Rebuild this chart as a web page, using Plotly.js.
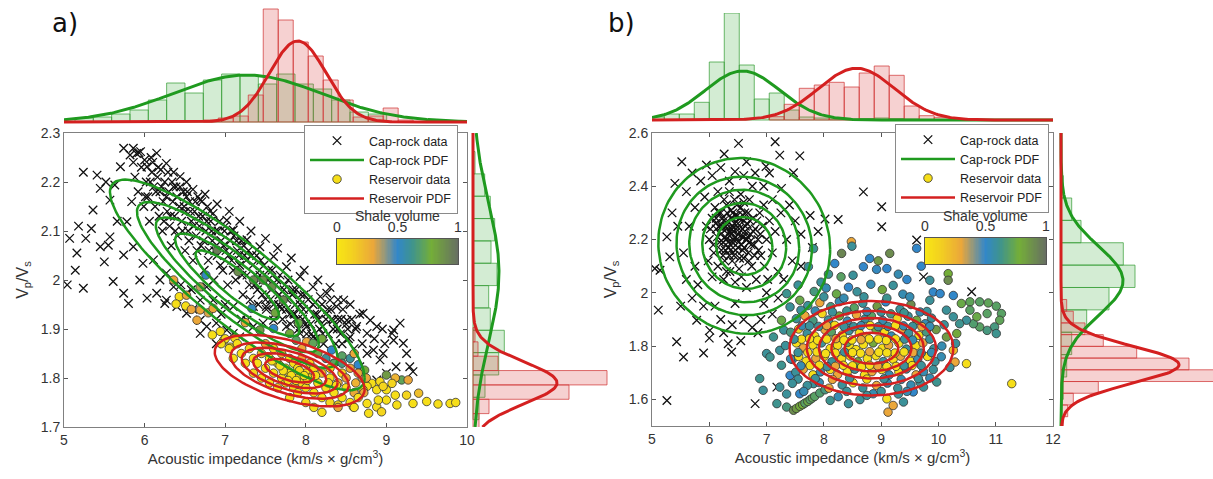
<!DOCTYPE html>
<html><head><meta charset="utf-8">
<script src="https://cdn.plot.ly/plotly-3.0.1.min.js"></script>
<style>html,body{margin:0;padding:0;background:#fff}#chart{width:1213px;height:479px}</style>
</head><body><div id="chart"></div>
<script>
// ---------------- DATA ----------------
// Panel a: cap-rock samples [AI, Vp/Vs]
const capRockA = [
[5.04,1.99],[5.07,2.085],[5.18,2.11],[5.16,2.055],[5.14,2.02],[5.24,1.983],[5.24,2.22],[5.27,2.085],[5.36,2.143],[5.34,2.105],[5.45,2.068],[5.5,2.037],[5.55,2.071],[5.61,1.997],[5.74,1.973],[5.8,1.952],[6.03,1.963],[6.25,1.952],[5.41,2.214],[5.45,2.187],[5.63,2.194],[5.57,2.163],[5.74,2.269],[5.86,2.269],[5.9,2.258],[5.7,2.231],[5.84,2.16],[5.78,2.119],[5.86,2.068],[5.74,2.051],[5.98,2.034],[5.57,2.088],[5.52,2.2],[5.66,2.12],[5.94,2.0],[6.11,2.041],
[5.82,2.255],[5.95,2.262],[6.0,2.245],[6.08,2.25],[6.15,2.259],[6.03,2.231],[6.27,2.238],[6.2,2.225],[6.36,2.22],[6.44,2.211],[6.36,2.19],[6.52,2.2],[6.52,2.17],[6.6,2.185],[6.69,2.163],[6.75,2.175],[6.85,2.136],[6.9,2.155],[7.02,2.122],[7.05,2.14],[7.1,2.102],[7.18,2.12],[7.27,2.082],[7.32,2.1],[7.43,2.068],[7.5,2.085],[7.6,2.048],[7.65,2.065],[7.76,2.027],[7.82,2.045],[7.93,2.007],[7.98,2.02],[8.09,1.986],[8.15,2.0],[8.26,1.973],[8.3,1.985],[8.4,1.96],[8.47,1.959],[8.55,1.95],
[5.88,2.21],[5.92,2.18],[5.96,2.23],[5.99,2.15],[6.02,2.2],[6.04,2.17],[6.06,2.12],[6.09,2.22],[6.11,2.19],[6.13,2.15],[6.16,2.21],[6.18,2.13],[6.19,2.18],[6.22,2.1],[6.23,2.16],[6.25,2.2],[6.28,2.14],[6.3,2.18],[6.31,2.11],[6.33,2.07],[6.35,2.16],[6.37,2.13],[6.39,2.19],[6.41,2.09],[6.43,2.15],[6.46,2.12],[6.48,2.18],[6.5,2.06],[6.51,2.14],[6.54,2.1],[6.56,2.16],[6.58,2.12],[6.6,2.04],[6.62,2.14],[6.64,2.09],[6.66,2.17],[6.68,2.11],[6.7,2.07],[6.72,2.13],[6.74,2.02],[6.76,2.1],[6.78,2.15],[6.8,2.06],[6.82,2.12],[6.84,2.08],[6.86,2.0],[6.88,2.1],[6.9,2.05],[6.93,2.12],[6.95,2.08],[6.97,2.02],[6.99,2.1],[7.01,2.06],[7.03,1.99],[7.06,2.08],[7.08,2.04],[7.11,2.09],[7.13,2.0],[7.15,2.06],[7.18,2.03],[7.2,2.08],[7.22,1.97],[7.24,2.05],[7.27,2.01],[7.29,2.06],[7.31,1.96],[7.34,2.03],[7.36,1.99],[7.39,2.05],[7.41,1.95],[7.43,2.01],[7.46,1.97],[7.48,2.03],[7.51,1.94],[7.53,2.0],[7.56,1.96],[7.58,2.02],[7.61,1.93],[7.63,1.99],[7.66,1.95],[7.68,2.01],[7.71,1.92],[7.73,1.98],[7.76,1.94],[7.78,2.0],[7.81,1.91],[7.83,1.97],[7.86,1.93],[7.88,1.98],[7.91,1.9],[7.93,1.95],[7.96,1.92],[7.98,1.97],[8.01,1.89],[8.04,1.94],[8.06,1.91],[8.09,1.95],[8.12,1.88],[8.14,1.93],[8.17,1.9],[8.2,1.95],[8.22,1.87],[8.25,1.92],[8.28,1.89],[8.31,1.94],[8.34,1.9],[8.37,1.87],[8.4,1.92],[8.43,1.89],[8.46,1.94],[8.5,1.91],[8.53,1.88],[8.57,1.92],[8.62,1.9],[8.67,1.93],
[5.86,2.24],[5.93,2.26],[6.01,2.17],[6.07,2.2],[6.1,2.24],[6.14,2.18],[6.17,2.23],[6.21,2.19],[6.24,2.12],[6.27,2.17],[6.29,2.22],[6.32,2.13],[6.34,2.2],[6.38,2.1],[6.4,2.17],[6.44,2.19],[6.47,2.1],[6.49,2.15],[6.53,2.18],[6.55,2.08],[6.57,2.14],[6.61,2.11],[6.63,2.16],[6.65,2.06],[6.67,2.13],[6.71,2.16],[6.73,2.08],[6.77,2.12],[6.79,2.04],[6.81,2.14],[6.83,2.1],[6.87,2.06],[6.91,2.1],[6.94,2.03],[6.98,2.07],[7.0,2.11],[7.04,2.05],[7.07,2.1],[7.1,2.02],[7.14,2.08],[7.17,2.05],[7.21,2.01],[7.23,2.07],[7.26,2.04],[7.3,1.99],[7.33,2.05],[7.37,2.01],[7.4,1.98],[7.44,2.04],[7.47,2.0],[7.5,1.96],[7.54,2.02],[7.57,1.98],[7.6,1.95],[7.64,2.0],[7.67,1.97],[7.7,1.94],[7.74,1.99],[7.77,1.96],[7.8,1.93],[7.84,1.98],[7.87,1.95],[7.9,1.92],[7.94,1.97],[7.97,1.94],[8.0,1.91],[8.03,1.96],[8.07,1.89],[8.11,1.93],[8.16,1.92],[8.21,1.89],[8.27,1.94],[8.32,1.92],[8.39,1.9],[8.44,1.92],[8.52,1.9],
[6.15,1.973],[6.27,1.959],[6.4,1.946],[6.52,1.932],[6.69,1.918],[6.77,1.905],[6.89,1.912],[7.02,1.898],[7.1,1.891],[7.18,1.884],[7.27,1.918],[7.35,1.905],[7.47,1.912],[6.89,1.87],[6.69,1.891],[6.27,2.014],[6.36,1.986],[6.19,2.0],[6.52,1.973],[6.69,1.959],[6.77,1.986],[6.85,1.959],[7.1,1.946],[7.35,1.946],[7.51,1.946],[7.68,1.946],[7.85,1.932],[8.01,1.905],[8.09,1.884],[8.21,1.905],[7.93,1.891],[7.76,1.905],[7.6,1.918],[8.26,1.932],[6.6,1.94],[6.95,1.93],[7.2,1.92],[7.0,1.95],[6.45,1.99],[6.58,1.98],
[8.71,1.932],[8.8,1.918],[8.76,1.891],[8.88,1.905],[8.84,1.857],[8.92,1.837],[9.07,1.891],[9.09,1.877],[9.21,1.871],[9.25,1.85],[9.29,1.823],[9.33,1.813],[9.12,1.823],[9.0,1.81],[8.63,1.905],[8.55,1.884],[8.51,1.918],[8.34,1.918],[8.38,1.946],[8.3,1.959],[8.18,1.966],[8.88,1.796],[8.96,1.85],[8.76,1.85],[8.67,1.823],[9.17,1.912],[9.09,1.898],[8.85,1.88],[8.95,1.9],[8.6,1.86],[8.7,1.87],[8.45,1.87],[8.98,1.87]
];
// Panel a: reservoir samples [AI, Vp/Vs, shale volume]
const reservoirA = [
[7.9,1.8,0.05],
[6.36,2.0,0.3],[6.43,1.966,0.05],[6.39,1.951,0.05],[6.52,1.969,0.3],[6.51,1.947,0.05],[6.58,1.94,0.3],[6.69,1.939,0.3],[6.79,1.933,0.32],[6.85,1.942,0.3],[6.65,1.918,0.3],[6.69,1.986,0.35],[6.84,1.888,0.05],[6.94,1.895,0.05],[6.98,1.877,0.05],[7.06,1.863,0.05],[7.12,1.881,0.1],[7.25,1.913,0.3],[6.76,2.01,0.52],[6.9,2.061,0.95],[7.16,2.017,0.9],[7.33,1.942,0.52],[7.35,2.0,0.92],[7.43,1.898,0.85],[7.47,2.0,0.9],[7.58,1.986,0.9],[7.6,1.901,0.5],[7.62,1.933,0.82],[7.72,1.959,0.92],[7.8,1.891,0.8],[7.91,1.912,0.75],[7.88,1.877,0.7],[8.01,1.874,0.3],[8.09,1.871,0.72],[8.32,1.857,0.5],[8.65,1.827,0.5],[8.73,1.816,0.8],[9.0,1.806,0.85],[9.19,1.796,0.72],[9.27,1.796,0.3],[9.11,1.8,0.25],[8.2,1.88,0.8],[8.45,1.845,0.7],[8.35,1.83,0.85],[8.55,1.84,0.6],[8.6,1.85,0.3],
[8.82,1.789,0.05],[8.92,1.793,0.08],[9.0,1.776,0.05],[8.88,1.776,0.05],[8.76,1.748,0.05],[8.88,1.741,0.05],[8.78,1.728,0.05],[8.94,1.731,0.1],[9.0,1.755,0.05],[9.11,1.765,0.05],[9.13,1.745,0.05],[9.25,1.765,0.1],[9.33,1.748,0.05],[9.4,1.769,0.2],[9.5,1.752,0.05],[9.64,1.747,0.05],[9.79,1.748,0.05],[9.86,1.75,0.05],[8.59,1.741,0.05],[8.4,1.745,0.05],[8.96,1.783,0.1],[8.76,1.783,0.05],[8.9,1.755,0.05],[9.07,1.789,0.1],[8.71,1.776,0.1],
[7.2,1.85,0.05],[7.3,1.86,0.1],[7.35,1.84,0.05],[7.4,1.83,0.05],[7.45,1.85,0.2],[7.5,1.82,0.05],[7.5,1.87,0.3],[7.55,1.84,0.05],[7.6,1.81,0.05],[7.6,1.86,0.1],[7.65,1.83,0.05],[7.7,1.8,0.05],[7.7,1.85,0.25],[7.75,1.82,0.05],[7.75,1.79,0.05],[7.8,1.84,0.05],[7.8,1.81,0.05],[7.85,1.78,0.1],[7.85,1.83,0.05],[7.9,1.82,0.05],[7.95,1.79,0.05],[7.95,1.84,0.3],[8.0,1.81,0.05],[8.0,1.78,0.05],[8.05,1.83,0.1],[8.05,1.8,0.05],[8.1,1.77,0.05],[8.1,1.82,0.05],[8.15,1.79,0.05],[8.2,1.81,0.2],[8.2,1.76,0.05],[8.25,1.78,0.05],[8.3,1.8,0.05],[8.3,1.75,0.1],[8.35,1.77,0.05],[8.4,1.79,0.3],[8.45,1.76,0.05],[8.5,1.78,0.05],[8.55,1.75,0.05],[8.6,1.77,0.3],[8.45,1.81,0.1],[8.35,1.83,0.7],[8.25,1.84,0.6],[8.15,1.85,0.75],[7.95,1.86,0.3],[7.65,1.78,0.05],[7.55,1.79,0.05],[7.45,1.8,0.05],[7.35,1.81,0.1],[7.25,1.83,0.05],[7.1,1.84,0.05],[7.05,1.86,0.05],[7.8,1.76,0.05],[7.9,1.77,0.05],[8.0,1.75,0.1],[8.1,1.74,0.05],[8.2,1.73,0.05],[8.4,1.74,0.3],[8.6,1.74,0.05],[7.72,1.815,0.05],[7.82,1.805,0.05],[7.92,1.815,0.1],[8.02,1.795,0.05],[7.88,1.795,0.05],[7.78,1.795,0.05],[7.98,1.805,0.05],[8.12,1.805,0.05],[7.68,1.825,0.05],[7.58,1.835,0.05],[8.28,1.79,0.05],[8.38,1.785,0.05],[8.5,1.8,0.3],[8.62,1.79,0.25],[8.7,1.8,0.35],[8.72,1.77,0.3],[8.65,1.76,0.05],[7.15,1.87,0.05],[7.0,1.88,0.05],[6.95,1.87,0.05],[8.55,1.82,0.3],[8.65,1.81,0.3],[8.75,1.8,0.3],[8.3,1.82,0.05],[8.45,1.83,0.65]
];
// Panel b: cap-rock samples
const capRockB = [
[6.51,2.561],[7.15,2.567],[7.58,2.514],[7.23,2.517],[6.26,2.521],[5.52,2.492],[6.65,2.492],[6.99,2.474],[7.47,2.451],[5.4,2.411],[6.45,2.455],[8.69,2.379],[9.01,2.323],[9.01,2.248],[8.25,2.275],[8.02,2.277],[7.76,2.29],[7.26,2.392],[5.26,2.21],[5.31,2.135],[5.14,2.085],[5.05,2.091],[5.11,1.935],[5.43,1.816],[5.55,1.759],[5.9,1.774],[6.39,1.778],[6.33,1.809],[6.01,1.859],[5.78,1.897],[5.26,1.596],[6.8,1.584],[7.18,1.646],[10.58,2.004],[9.62,2.198],[9.74,2.06],
[5.35,2.3],[5.45,2.25],[5.6,2.38],[5.7,2.45],[5.55,2.15],[5.6,2.05],[5.7,1.98],[5.85,2.42],[5.95,2.48],[6.05,2.44],[6.2,2.47],[6.35,2.42],[6.6,2.44],[6.8,2.45],[6.95,2.4],[7.1,2.35],[7.25,2.3],[7.4,2.33],[7.5,2.27],[7.6,2.22],[7.35,2.2],[7.45,2.12],[7.3,2.05],[7.2,1.98],[7.1,1.92],[6.9,1.9],[6.75,1.87],[6.6,1.9],[6.4,1.88],[6.2,1.9],[6.1,1.95],[5.9,1.95],[5.8,2.03],[5.75,2.1],[5.65,2.25],[5.75,2.32],[6.0,1.83],[6.25,1.85],[6.55,1.82],[6.85,1.85],[7.0,2.0],[7.6,2.1],[7.8,2.17],[7.9,2.23],[5.5,1.95],[6.45,1.96],[6.95,1.96],[7.05,2.45],[7.15,2.23],[5.92,2.36],
[6.0,2.2],[6.05,2.28],[6.08,2.15],[6.1,2.32],[6.12,2.24],[6.15,2.1],[6.18,2.19],[6.2,2.3],[6.22,2.25],[6.24,2.14],[6.26,2.35],[6.28,2.21],[6.3,2.08],[6.32,2.27],[6.34,2.17],[6.36,2.23],[6.38,2.31],[6.4,2.12],[6.42,2.2],[6.44,2.26],[6.46,2.16],[6.48,2.33],[6.5,2.22],[6.52,2.09],[6.54,2.28],[6.56,2.18],[6.58,2.24],[6.6,2.13],[6.62,2.3],[6.64,2.2],[6.66,2.26],[6.68,2.15],[6.7,2.35],[6.72,2.22],[6.74,2.1],[6.76,2.28],[6.78,2.18],[6.8,2.24],[6.82,2.05],[6.85,2.2],[6.88,2.3],[6.9,2.14],[6.93,2.25],[6.96,2.1],[7.0,2.2],[6.25,2.05],[6.45,2.04],[6.65,2.02],[6.35,2.38],[6.55,2.37],[6.75,2.4],[6.15,2.38],[5.95,2.25],[5.98,2.12],[6.05,2.06],[6.3,2.2],[6.4,2.25],[6.5,2.17],[6.6,2.21],[6.45,2.29],[6.35,2.14],[6.55,2.32],[6.25,2.27],[6.2,2.22],[6.4,2.19],[6.5,2.26],[6.6,2.27],[6.7,2.19],[6.3,2.24],[6.38,2.28],[6.48,2.2],[6.58,2.16],[6.42,2.23],[6.52,2.24],[6.33,2.19],[6.28,2.16],[6.62,2.23],[6.68,2.3],[6.12,2.28],[6.18,2.25],[7.05,2.27],[7.1,2.15],[7.2,2.08],[6.95,2.33],[7.02,2.05],
[6.02,2.24],[6.07,2.18],[6.11,2.26],[6.14,2.21],[6.17,2.3],[6.21,2.16],[6.23,2.28],[6.27,2.12],[6.29,2.25],[6.31,2.3],[6.33,2.22],[6.37,2.16],[6.39,2.24],[6.41,2.3],[6.43,2.14],[6.47,2.24],[6.49,2.29],[6.51,2.19],[6.53,2.13],[6.57,2.21],[6.59,2.29],[6.61,2.17],[6.63,2.25],[6.67,2.21],[6.69,2.12],[6.71,2.27],[6.73,2.18],[6.77,2.23],[6.79,2.14],[6.83,2.27],[6.86,2.16],[6.89,2.22],[6.3,2.33],[6.44,2.35],[6.6,2.34],[6.36,2.08],[6.56,2.06],[6.24,2.19],[6.46,2.21],[6.66,2.2],[6.52,2.28],[6.38,2.22]
];
// Panel b: reservoir samples [AI, Vp/Vs, shale volume]
const reservoirB = [
[8.45,1.8,0.05],
[8.48,2.192,0.3],[8.49,2.175,0.6],[8.31,2.148,0.92],[9.15,2.148,0.9],[9.62,2.167,0.5],[8.8,2.129,0.5],[8.69,2.098,0.5],[8.92,2.088,0.52],[9.1,2.091,0.5],[7.82,2.166,0.62],[7.73,2.098,0.6],[8.19,2.11,0.5],[8.08,2.07,0.62],[8.51,2.066,0.6],[10.17,2.072,0.78],[10.17,2.047,0.9],[9.85,2.047,0.6],[9.3,2.07,0.55],[9.45,2.05,0.5],[8.95,2.12,0.85],[8.3,2.06,0.7],[7.95,2.04,0.6],[9.7,2.1,0.5],
[7.0,1.772,0.6],[7.06,1.759,0.62],[6.88,1.678,0.62],[6.94,1.634,0.6],[7.18,1.584,0.62],[7.35,1.571,0.65],[7.47,1.559,0.9],[7.52,1.566,0.85],[7.58,1.574,0.8],[7.63,1.58,0.78],[7.67,1.586,0.7],[7.72,1.592,0.75],[7.76,1.599,0.7],[7.8,1.605,0.72],[7.84,1.611,0.7],[7.93,1.624,0.68],[8.02,1.636,0.65],[7.23,1.646,0.6],[7.41,1.69,0.5],[7.26,1.728,0.62],[7.23,1.784,0.6],[7.12,1.834,0.62],[7.26,1.897,0.75],[7.41,1.947,0.6],[7.35,1.997,0.62],[7.58,1.972,0.75],[7.55,2.029,0.6],[7.58,1.621,0.5],[7.82,1.659,0.6],[8.11,1.596,0.62],[8.43,1.584,0.6],[8.63,1.599,0.6],[8.86,1.621,0.55],[9.1,1.602,0.05],[9.12,1.552,0.3],[9.21,1.577,0.3],[9.39,1.59,0.6],[9.56,1.628,0.5],[9.97,1.665,0.62],[9.74,1.646,0.6],[8.25,1.61,0.55],[8.75,1.615,0.6],[9.3,1.62,0.6],[7.35,1.62,0.6],[7.45,1.75,0.55],[7.3,1.86,0.6],
[10.14,1.834,0.85],[10.26,1.784,0.2],[10.29,1.74,0.3],[10.49,1.734,0.05],[11.28,1.659,0.05],[10.26,1.91,0.6],[10.14,1.935,0.6],[9.85,1.972,0.6],[9.91,2.003,0.5],[10.03,1.997,0.5],[10.26,1.99,0.5],[10.4,1.96,0.75],[10.55,1.966,0.72],[10.72,1.966,0.7],[10.87,1.962,0.72],[11.01,1.95,0.7],[11.1,1.922,0.7],[11.07,1.897,0.72],[10.98,1.872,0.65],[11.01,1.847,0.62],[10.85,1.859,0.65],[10.72,1.872,0.7],[10.61,1.884,0.68],[10.49,1.897,0.6],[10.37,1.884,0.62],[10.32,1.847,0.8],[10.85,1.922,0.7],[10.67,1.91,0.75],[10.55,1.935,0.7],[10.1,1.88,0.6],[10.2,1.72,0.6],[10.05,1.76,0.55],[10.3,1.81,0.6],
[7.72,1.952,0.6],[7.93,1.963,0.3],[8.12,1.948,0.65],[8.27,1.967,0.55],[8.53,1.944,0.7],[8.68,1.961,0.6],[8.93,1.949,0.85],[9.08,1.966,0.5],[9.33,1.938,0.6],[9.52,1.956,0.9],[9.68,1.928,0.55],
[7.83,2.005,0.65],[8.04,2.018,0.55],[8.22,1.996,0.75],[8.43,2.021,0.5],[8.58,2.004,0.6],[8.82,2.032,0.55],[9.02,2.012,0.8],[9.21,2.028,0.6],[9.38,1.995,0.55],
[7.52,1.903,0.6],[7.67,1.914,0.3],[7.81,1.896,0.65],[7.97,1.922,0.1],[8.08,1.898,0.6],[8.27,1.913,0.8],[8.41,1.894,0.55],[8.57,1.918,0.3],[8.72,1.902,0.6],[8.83,1.913,0.7],[9.03,1.896,0.55],[9.17,1.921,0.65],[9.28,1.903,0.1],[9.47,1.912,0.6],[9.62,1.897,0.8],[9.77,1.884,0.55],[9.88,1.905,0.6],
[7.42,1.852,0.65],[7.56,1.864,0.1],[7.71,1.847,0.6],[7.84,1.838,0.05],[8.02,1.861,0.3],[8.13,1.853,0.7],[8.32,1.842,0.05],[8.44,1.858,0.6],[8.62,1.849,0.05],[8.74,1.836,0.3],[8.91,1.862,0.75],[9.06,1.851,0.05],[9.18,1.838,0.55],[9.37,1.864,0.3],[9.48,1.848,0.6],[9.66,1.84,0.05],[9.79,1.853,0.65],[9.96,1.862,0.85],
[7.33,1.802,0.6],[7.52,1.812,0.05],[7.64,1.793,0.3],[7.81,1.804,0.05],[7.96,1.812,0.6],[8.11,1.791,0.05],[8.24,1.803,0.05],[8.41,1.814,0.7],[8.56,1.787,0.05],[8.69,1.806,0.05],[8.86,1.812,0.8],[9.02,1.792,0.05],[9.13,1.803,0.3],[9.31,1.811,0.05],[9.44,1.789,0.6],[9.61,1.802,0.05],[9.73,1.812,0.3],[9.92,1.79,0.6],[10.06,1.8,0.55],
[7.42,1.752,0.55],[7.56,1.761,0.05],[7.69,1.743,0.05],[7.86,1.754,0.3],[8.01,1.762,0.05],[8.14,1.741,0.6],[8.31,1.752,0.05],[8.46,1.763,0.05],[8.59,1.741,0.8],[8.76,1.753,0.05],[8.91,1.764,0.05],[9.04,1.742,0.6],[9.21,1.751,0.05],[9.34,1.762,0.3],[9.51,1.743,0.05],[9.64,1.752,0.55],[9.81,1.761,0.05],[9.94,1.742,0.6],
[7.51,1.702,0.6],[7.64,1.713,0.3],[7.81,1.692,0.05],[7.94,1.703,0.55],[8.11,1.712,0.05],[8.24,1.693,0.3],[8.41,1.704,0.05],[8.54,1.713,0.6],[8.71,1.691,0.05],[8.84,1.704,0.3],[9.01,1.712,0.05],[9.14,1.692,0.55],[9.31,1.703,0.05],[9.44,1.714,0.6],[9.61,1.692,0.3],[9.74,1.704,0.55],[9.91,1.712,0.6],
[7.71,1.652,0.6],[7.92,1.663,0.55],[8.09,1.642,0.3],[8.32,1.654,0.6],[8.51,1.662,0.05],[8.68,1.643,0.6],[8.92,1.652,0.3],[9.11,1.661,0.55],[9.29,1.642,0.6],[9.52,1.654,0.55],[9.68,1.663,0.6],
[7.61,1.826,0.05],[7.89,1.822,0.05],[8.21,1.828,0.3],[8.49,1.823,0.05],[8.79,1.827,0.05],[9.09,1.821,0.05],[9.41,1.826,0.6],[7.72,1.776,0.05],[8.03,1.772,0.05],[8.36,1.778,0.6],[8.64,1.773,0.05],[8.96,1.777,0.05],[9.24,1.774,0.05],[9.56,1.776,0.3],[7.76,1.727,0.05],[8.06,1.723,0.6],[8.34,1.728,0.05],[8.66,1.722,0.05],[8.94,1.726,0.3],[9.26,1.724,0.05],[9.54,1.727,0.05],[7.62,1.876,0.55],[7.91,1.874,0.6],[8.19,1.878,0.05],[8.52,1.873,0.6],[8.81,1.877,0.05],[9.12,1.874,0.6],[9.39,1.876,0.55],[9.71,1.873,0.3],
[7.48,1.826,0.6],[7.75,1.828,0.05],[8.05,1.826,0.05],[8.35,1.822,0.05],[8.65,1.824,0.3],[8.95,1.826,0.05],[9.25,1.827,0.05],[9.55,1.823,0.55],[9.85,1.826,0.6],[7.55,1.776,0.6],[7.88,1.778,0.05],[8.2,1.774,0.05],[8.5,1.776,0.05],[8.8,1.779,0.3],[9.1,1.775,0.05],[9.4,1.778,0.05],[9.7,1.774,0.6],[9.88,1.776,0.55],[7.6,1.726,0.55],[7.92,1.728,0.05],[8.2,1.724,0.3],[8.5,1.726,0.05],[8.8,1.728,0.05],[9.1,1.723,0.05],[9.4,1.726,0.6],[9.7,1.727,0.6],[7.55,1.676,0.6],[7.85,1.678,0.6],[8.15,1.675,0.3],[8.45,1.679,0.6],[8.75,1.676,0.05],[9.05,1.677,0.6],[9.35,1.675,0.55],[9.65,1.678,0.6],[9.85,1.68,0.55],[7.75,1.876,0.6],[8.05,1.877,0.3],[8.35,1.874,0.6],[8.65,1.877,0.55],[8.95,1.873,0.6],[9.25,1.877,0.05],[9.55,1.874,0.6],[9.85,1.874,0.55],[7.6,1.935,0.6],[7.85,1.932,0.55],[8.15,1.928,0.6],[8.4,1.932,0.62],[8.75,1.93,0.55],[9.0,1.928,0.6],[9.4,1.925,0.62],[9.8,1.93,0.6],[8.0,1.985,0.6],[8.35,1.98,0.55],[8.7,1.985,0.6],[9.1,1.98,0.62],[9.5,1.985,0.55],[7.45,1.66,0.6],[7.65,1.63,0.55],[8.4,1.63,0.6],[9.0,1.63,0.6],[9.45,1.63,0.55]
];

// Bivariate Gaussian PDF parameters: [meanAI, meanVpVs], [sdAI, sdVpVs], correlation
const capPdfA = {mean:[7.15,1.99], sd:[0.632,0.086], rho:-0.88};
const resPdfA = {mean:[7.8,1.815], sd:[0.372,0.0292], rho:-0.52};
const capPdfB = {mean:[6.61,2.176], sd:[0.6,0.132], rho:-0.04};
const resPdfB = {mean:[8.83,1.792], sd:[0.572,0.071], rho:0.0};
const contourRadii = [2.5, 1.97, 1.6, 1.22, 0.82];   // Mahalanobis radii of PDF contours

// Marginal histograms: start edge, bin width, counts
const topCapA = {start:5.136, width:0.2275, counts:[4,5,8,12,22,39,29,42,48,47,38,48,38,33,22,10,8]};
const topResA = {start:6.728, width:0.186, counts:[2,4,6,27,113,102,80,66,42,22,5,6,14,2]};
const rightCapA = {start:1.715, width:0.0456, counts:[6,12,25.7,31.3,17.3,15.7,24,18,21.7,17.3,11.7,2]};
const rightResA = {start:1.698, width:0.0293, counts:[6,16,96,134,25,5,2]};
const topCapB = {start:4.953, width:0.2617, counts:[3,6,6,17.7,58,107,55,21,27,10,3,2,1,1,1.5,2,1.5,1]};
const topResB = {start:7.047, width:0.2617, counts:[3.3,15.7,31.7,35,37.7,33,47,54,44.7,14,4.3,2.7]};
const rightCapB = {start:1.60, width:0.084, counts:[2.3,5.7,10.7,25.7,48,74,62.3,20,10.7,2.3]};
const rightResB = {start:1.491, width:0.044, counts:[2.3,6.7,12.3,37.3,155,128,75.7,42.3,24,12.3,5.7]};

// Marginal PDF curves: [mean, sd, peak height in count units]
const topCapPdfA = [7.27,0.92,47];
const topResPdfA = [7.9,0.35,81];
const rightCapPdfA = [2.015,0.14,26];
const rightResPdfA = [1.79,0.043,84];
const topCapPdfB = [6.58,0.65,49];
const topResPdfB = [8.57,0.667,51.7];
const rightCapPdfB = [2.045,0.13,62];
const rightResPdfB = [1.73,0.07,118];

const xTicksA = [5,6,7,8,9,10];
const yTicksA = [1.7,1.8,1.9,2.0,2.1,2.2,2.3];
const xTicksB = [5,6,7,8,9,10,11,12];
const yTicksB = [1.6,1.8,2.0,2.2,2.4,2.6];
const shaleTicks = [0,0.5,1];
const shaleTickText = ['0','0.5','1'];

// ---------------- STYLE ----------------
const W=1213, H=479;
const GREEN='#1f9a1f', RED='#d42020';
const shaleScale = [[0,'#f8e614'],[0.12,'#f3d21f'],[0.3,'#eba73a'],[0.5,'#3287c9'],[0.62,'#3e938f'],[0.78,'#74ae38'],[1,'#676f62']];
const FONT='Liberation Sans, Arial, sans-serif';
const xd=(a,b)=>[a/W,b/W];
const yd=(top,bot)=>[1-bot/H,1-top/H];

function centers(h){return h.counts.map((_,i)=>h.start+h.width*(i+0.5));}
function gauss(p,lo,hi){const t=[],v=[];for(let i=0;i<=300;i++){const x=lo+(hi-lo)*i/300;t.push(x);v.push(p[2]*Math.exp(-0.5*Math.pow((x-p[0])/p[1],2)));}return [t,v];}
function ellipses(p){const xs=[],ys=[],k=Math.sqrt(1-p.rho*p.rho);
  contourRadii.forEach(r=>{for(let i=0;i<=140;i++){const t=2*Math.PI*i/140;
    xs.push(p.mean[0]+r*p.sd[0]*Math.cos(t));
    ys.push(p.mean[1]+r*p.sd[1]*(p.rho*Math.cos(t)+k*Math.sin(t)));}
    xs.push(null);ys.push(null);});return [xs,ys];}

const traces=[];
function topHist(h,color,fill,xa,ya){traces.push({type:'bar',x:centers(h),y:h.counts,width:h.width,xaxis:xa,yaxis:ya,
  marker:{color:fill,line:{color:color,width:1}},showlegend:false,hoverinfo:'skip'});}
function rightHist(h,color,fill,xa,ya){traces.push({type:'bar',orientation:'h',y:centers(h),x:h.counts,width:h.width,xaxis:xa,yaxis:ya,
  marker:{color:fill,line:{color:color,width:1}},showlegend:false,hoverinfo:'skip'});}
function topCurve(p,lo,hi,color,xa,ya){const g=gauss(p,lo,hi);traces.push({type:'scatter',mode:'lines',x:g[0],y:g[1],xaxis:xa,yaxis:ya,line:{color:color,width:3},showlegend:false,hoverinfo:'skip'});}
function rightCurve(p,lo,hi,color,xa,ya){const g=gauss(p,lo,hi);traces.push({type:'scatter',mode:'lines',y:g[0],x:g[1],xaxis:xa,yaxis:ya,line:{color:color,width:3},showlegend:false,hoverinfo:'skip'});}

const GF='rgba(80,180,80,0.25)', GL='rgba(60,160,60,0.75)', RF='rgba(220,70,70,0.25)', RL='rgba(210,60,60,0.75)';
topHist(topCapA,GL,GF,'x2','y2'); topHist(topResA,RL,RF,'x2','y2');
topCurve(topCapPdfA,5,10,GREEN,'x2','y2'); topCurve(topResPdfA,5,10,RED,'x2','y2');
rightHist(rightCapA,GL,GF,'x3','y3'); rightHist(rightResA,RL,RF,'x3','y3');
rightCurve(rightCapPdfA,1.7,2.3,GREEN,'x3','y3'); rightCurve(rightResPdfA,1.7,2.3,RED,'x3','y3');
topHist(topCapB,GL,GF,'x5','y5'); topHist(topResB,RL,RF,'x5','y5');
topCurve(topCapPdfB,5,12,GREEN,'x5','y5'); topCurve(topResPdfB,5,12,RED,'x5','y5');
rightHist(rightCapB,GL,GF,'x6','y6'); rightHist(rightResB,RL,RF,'x6','y6');
rightCurve(rightCapPdfB,1.5,2.6,GREEN,'x6','y6'); rightCurve(rightResPdfB,1.5,2.6,RED,'x6','y6');

function mainPanel(cap,res,capPdf,resPdf,xa,ya,leg){
  traces.push({type:'scatter',mode:'markers',name:'Cap-rock data',x:cap.map(d=>d[0]),y:cap.map(d=>d[1]),xaxis:xa,yaxis:ya,legend:leg,legendrank:1,
    marker:{symbol:'x-thin',size:8.5,color:'#111',line:{color:'#111',width:1.3}},hoverinfo:'skip'});
  traces.push({type:'scatter',mode:'markers',name:'Reservoir data',x:res.map(d=>d[0]),y:res.map(d=>d[1]),xaxis:xa,yaxis:ya,legend:leg,legendrank:3,
    marker:{symbol:'circle',size:8.5,color:res.map(d=>d[2]),colorscale:shaleScale,cmin:0,cmax:1,showscale:false,line:{color:'#333',width:0.8}},hoverinfo:'skip'});
  const ge=ellipses(capPdf), re=ellipses(resPdf);
  traces.push({type:'scatter',mode:'lines',name:'Cap-rock PDF',x:ge[0],y:ge[1],xaxis:xa,yaxis:ya,legend:leg,legendrank:2,line:{color:GREEN,width:2.5},hoverinfo:'skip'});
  traces.push({type:'scatter',mode:'lines',name:'Reservoir PDF',x:re[0],y:re[1],xaxis:xa,yaxis:ya,legend:leg,legendrank:4,line:{color:RED,width:2.5},hoverinfo:'skip'});
}
mainPanel(capRockA,reservoirA,capPdfA,resPdfA,'x','y','legend');
mainPanel(capRockB,reservoirB,capPdfB,resPdfB,'x4','y4','legend2');

const ramp=[];for(let i=0;i<=100;i++)ramp.push(i/100);
['x7','x8'].forEach((xa,i)=>traces.push({type:'heatmap',x:ramp,y:[0],z:[ramp],zmin:0,zmax:1,colorscale:shaleScale,showscale:false,xaxis:xa,yaxis:i?'y8':'y7',hoverinfo:'skip'}));

const tickFont={family:FONT,size:14,color:'#333'};
function mainX(dom,range,ticks,anchor){return {domain:dom,range:range,tickvals:ticks,ticks:'inside',ticklen:4,tickcolor:'#555',showline:true,mirror:'ticks',linecolor:'#808080',linewidth:1,
  showgrid:false,zeroline:false,tickfont:tickFont,anchor:anchor,
  title:{text:'Acoustic impedance (km/s × g/cm<sup>3</sup>)',font:{family:FONT,size:15,color:'#333'},standoff:6}};}
function mainY(dom,range,ticks,anchor){return {domain:dom,range:range,tickvals:ticks,ticks:'inside',ticklen:4,tickcolor:'#555',showline:true,mirror:'ticks',linecolor:'#808080',linewidth:1,
  showgrid:false,zeroline:false,tickfont:tickFont,anchor:anchor,
  title:{text:'V<sub>p</sub>/V<sub>s</sub>',font:{family:FONT,size:16,color:'#333'},standoff:8}};}
const hid=(dom,range,anchor)=>({domain:dom,range:range,visible:false,anchor:anchor,fixedrange:true});
function cbX(dom,anchor){return {domain:dom,range:[0,1],side:'top',anchor:anchor,tickvals:shaleTicks,ticktext:shaleTickText,ticks:'',showline:true,mirror:true,linecolor:'#555',linewidth:1.2,showgrid:false,zeroline:false,tickfont:{family:FONT,size:14,color:'#333'}};}
function cbY(dom,anchor){return {domain:dom,range:[-0.5,0.5],anchor:anchor,showticklabels:false,ticks:'',showline:true,mirror:true,linecolor:'#555',linewidth:1.2,showgrid:false,zeroline:false};}

const legendBase={xanchor:'left',yanchor:'top',bgcolor:'#fff',bordercolor:'#8a8a8a',borderwidth:1,font:{family:FONT,size:12.5,color:'#222'},itemwidth:54,tracegroupgap:0,traceorder:'normal'};

const layout={
  width:W,height:H,margin:{l:0,r:0,t:0,b:0},paper_bgcolor:'#fff',plot_bgcolor:'rgba(0,0,0,0)',
  font:{family:FONT,color:'#333'},barmode:'overlay',bargap:0,hovermode:false,
  xaxis:mainX(xd(64,467),[5,10],xTicksA,'y'), yaxis:mainY(yd(133,427),[1.7,2.3],yTicksA,'x'),
  xaxis2:hid(xd(64,467),[5,10],'y2'), yaxis2:hid(yd(7,124),[-2,115],'x2'),
  xaxis3:hid(xd(471,608),[-2,135],'y3'), yaxis3:hid(yd(133,427),[1.7,2.3],'x3'),
  xaxis4:mainX(xd(652,1053),[5,12],xTicksB,'y4'), yaxis4:mainY(yd(133,426),[1.5,2.6],yTicksB,'x4'),
  xaxis5:hid(xd(652,1053),[5,12],'y5'), yaxis5:hid(yd(13,122),[-2,107],'x5'),
  xaxis6:hid(xd(1059,1213),[-2,152],'y6'), yaxis6:hid(yd(133,426),[1.5,2.6],'x6'),
  xaxis7:cbX(xd(337,458),'y7'), yaxis7:cbY(yd(239,264),'x7'),
  xaxis8:cbX(xd(925,1046),'y8'), yaxis8:cbY(yd(238,264),'x8'),
  legend:Object.assign({x:304/W,y:1-125/H},legendBase),
  legend2:Object.assign({x:895/W,y:1-124/H},legendBase),
  annotations:[
    {text:'a)',x:50/W,y:1-23/H,xref:'paper',yref:'paper',xanchor:'left',yanchor:'middle',showarrow:false,font:{family:'DejaVu Sans',size:26,color:'#111'}},
    {text:'b)',x:606/W,y:1-23/H,xref:'paper',yref:'paper',xanchor:'left',yanchor:'middle',showarrow:false,font:{family:'DejaVu Sans',size:26,color:'#111'}},
    {text:'Shale volume',x:397/W,y:1-216/H,xref:'paper',yref:'paper',xanchor:'center',yanchor:'middle',showarrow:false,font:{family:FONT,size:14,color:'#333'}},
    {text:'Shale volume',x:985/W,y:1-216/H,xref:'paper',yref:'paper',xanchor:'center',yanchor:'middle',showarrow:false,font:{family:FONT,size:14,color:'#333'}}
  ]
};
Plotly.newPlot('chart',traces,layout,{displayModeBar:false,staticPlot:true});
</script></body></html>
